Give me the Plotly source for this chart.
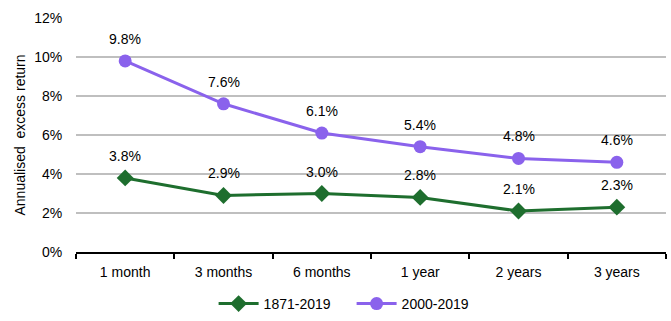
import plotly.graph_objects as go

categories = ["1 month", "3 months", "6 months", "1 year", "2 years", "3 years"]
series_1871 = [3.8, 2.9, 3.0, 2.8, 2.1, 2.3]
series_2000 = [9.8, 7.6, 6.1, 5.4, 4.8, 4.6]
name_1871 = "1871-2019"
name_2000 = "2000-2019"
ytick_vals = [0, 2, 4, 6, 8, 10, 12]
ytick_text = [f"{v}%" for v in ytick_vals]

green = "#1e6e2e"
purple = "#8a62ec"
font_family = "Liberation Sans, Arial, sans-serif"
fsize = 14

fig = go.Figure()
fig.add_trace(go.Scatter(
    x=categories, y=series_1871, name=name_1871,
    mode="lines+markers",
    line=dict(color=green, width=3),
    marker=dict(symbol="diamond", size=13, color=green),
))
fig.add_trace(go.Scatter(
    x=categories, y=series_2000, name=name_2000,
    mode="lines+markers",
    line=dict(color=purple, width=3),
    marker=dict(symbol="circle", size=13, color=purple),
))

for series in (series_1871, series_2000):
    for c, v in zip(categories, series):
        fig.add_annotation(x=c, y=v, text=f"{v:.1f}%", showarrow=False,
                           yshift=22, font=dict(size=fsize, color="#000000"))

fig.update_layout(
    width=671, height=321,
    margin=dict(l=76, r=5, t=18, b=69, autoexpand=False),
    plot_bgcolor="white", paper_bgcolor="white",
    font=dict(family=font_family, size=fsize, color="#000000"),
    showlegend=True,
    legend=dict(orientation="h", xref="container", x=0.524, xanchor="center",
                yref="container", y=0.053, yanchor="middle",
                font=dict(size=fsize), traceorder="normal",
                itemwidth=40, entrywidth=83),
    xaxis=dict(
        type="category", range=[-0.5, 5.5], autorange=False, tickson="boundaries",
        showline=True, linecolor="#000000", linewidth=2,
        ticks="outside", ticklen=5, tickcolor="#000000", tickwidth=2,
        showgrid=False, tickfont=dict(size=fsize),
        ticklabelstandoff=6, automargin=False,
    ),
    yaxis=dict(
        range=[0, 12], autorange=False, tickvals=ytick_vals, ticktext=ytick_text,
        showgrid=True, gridcolor="#bfbfbf", gridwidth=2,
        zeroline=False, showline=False,
        ticks="outside", ticklen=10, tickcolor="rgba(0,0,0,0)",
        tickfont=dict(size=fsize), automargin=False,
        title=dict(text="Annualised\u00a0 excess return", font=dict(size=fsize), standoff=5),
    ),
)

fig.write_html("out.html")
